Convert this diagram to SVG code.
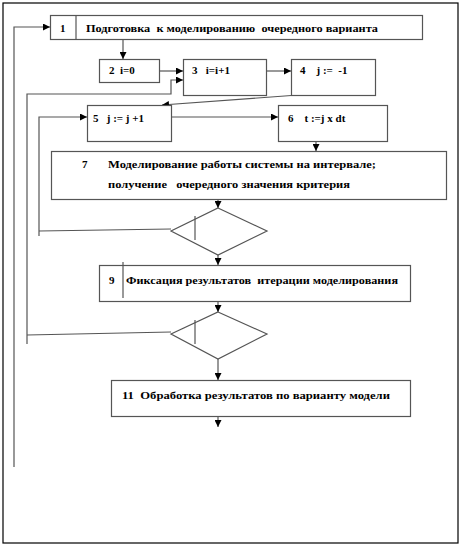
<svg xmlns="http://www.w3.org/2000/svg" width="462" height="547" viewBox="0 0 462 547">
<style>
.b{fill:#fff;stroke:#555;stroke-width:1.2}
.l{fill:none;stroke:#555;stroke-width:1.2}
.t{font-weight:bold;font-size:11px;fill:#000;white-space:pre}
</style>
<defs>
<marker id="a" viewBox="0 0 8 8" refX="8" refY="4" markerWidth="7" markerHeight="7" markerUnits="userSpaceOnUse" orient="auto">
<path d="M0,0 L8,4 L0,8 z" fill="#000"/>
</marker>
</defs>
<rect x="3" y="3" width="455" height="540" fill="#fff" stroke="#000" stroke-width="1.2"/>
<g id="connectors">
<polyline class="l" points="14,467 14,27 50,27" marker-end="url(#a)"/>
<line class="l" x1="123" y1="39" x2="123" y2="59" marker-end="url(#a)"/>
<line class="l" x1="159" y1="71" x2="183" y2="71" marker-end="url(#a)"/>
<line class="l" x1="266" y1="71" x2="291" y2="71" marker-end="url(#a)"/>
<polyline class="l" points="27,344 27,94 171,94 171,80 183,80" marker-end="url(#a)"/>
<line class="l" x1="339" y1="92" x2="162" y2="105" marker-end="url(#a)"/>
<polyline class="l" points="39,236 39,117 87,117" marker-end="url(#a)"/>
<line class="l" x1="171" y1="117" x2="278" y2="117" marker-end="url(#a)"/>
<line class="l" x1="316" y1="136" x2="316" y2="151" marker-end="url(#a)"/>
<line class="l" x1="218" y1="199" x2="218" y2="208" marker-end="url(#a)"/>
<line class="l" x1="39" y1="231" x2="171" y2="229"/>
<line class="l" x1="218" y1="255" x2="218" y2="265" marker-end="url(#a)"/>
<line class="l" x1="218" y1="297" x2="218" y2="312" marker-end="url(#a)"/>
<line class="l" x1="27" y1="335" x2="171" y2="332"/>
<line class="l" x1="218" y1="359" x2="218" y2="380" marker-end="url(#a)"/>
<line class="l" x1="218" y1="416" x2="218" y2="427" marker-end="url(#a)"/>
</g>
<g font-family="Liberation Serif, Times New Roman, serif">
<g id="n1">
<rect class="b" x="50.5" y="15.5" width="372" height="24"/>
<line class="l" x1="76" y1="15.5" x2="76" y2="39.5"/>
<text class="t" x="60" y="32">1</text>
<text class="t" x="86" y="32" textLength="292" lengthAdjust="spacingAndGlyphs">Подготовка  к моделированию  очередного варианта</text>
</g>
<g id="n2">
<rect class="b" x="99.5" y="59.5" width="60" height="23"/>
<text class="t" x="109" y="74">2  i=0</text>
</g>
<g id="n3">
<rect class="b" x="183.5" y="59.5" width="83" height="36"/>
<text class="t" x="192" y="74">3   i=i+1</text>
</g>
<g id="n4">
<rect class="b" x="291.5" y="59.5" width="84" height="36"/>
<text class="t" x="300" y="74">4    j :=  -1</text>
</g>
<g id="n5">
<rect class="b" x="87.5" y="105.5" width="84" height="36"/>
<text class="t" x="93" y="122">5   j := j +1</text>
</g>
<g id="n6">
<rect class="b" x="278.5" y="105.5" width="109" height="36"/>
<text class="t" x="288" y="122">6    t :=j x dt</text>
</g>
<g id="n7">
<rect class="b" x="51.5" y="151.5" width="395" height="48"/>
<text class="t" x="82" y="168">7</text>
<text class="t" x="108" y="168" textLength="268" lengthAdjust="spacingAndGlyphs">Моделирование работы системы на интервале;</text>
<text class="t" x="108" y="188" textLength="242" lengthAdjust="spacingAndGlyphs">получение   очередного значения критерия</text>
</g>
<g id="n8">
<polygon class="b" points="218,208 267,231 218,255 171,231"/>
<line class="l" x1="195" y1="216" x2="195" y2="240"/>
</g>
<g id="n9">
<rect class="b" x="99.5" y="265.5" width="311" height="36"/>
<line class="l" x1="123" y1="262" x2="123" y2="298"/>
<text class="t" x="109" y="284">9</text>
<text class="t" x="126" y="284" textLength="272" lengthAdjust="spacingAndGlyphs">Фиксация результатов  итерации моделирования</text>
</g>
<g id="n10">
<polygon class="b" points="218,312 267,334 218,359 171,334"/>
<line class="l" x1="195" y1="320" x2="195" y2="344"/>
</g>
<g id="n11">
<rect class="b" x="111.5" y="380.5" width="299" height="36"/>
<text class="t" x="122" y="399" textLength="268" lengthAdjust="spacingAndGlyphs">11  Обработка результатов по варианту модели</text>
</g>
</g>
</svg>
